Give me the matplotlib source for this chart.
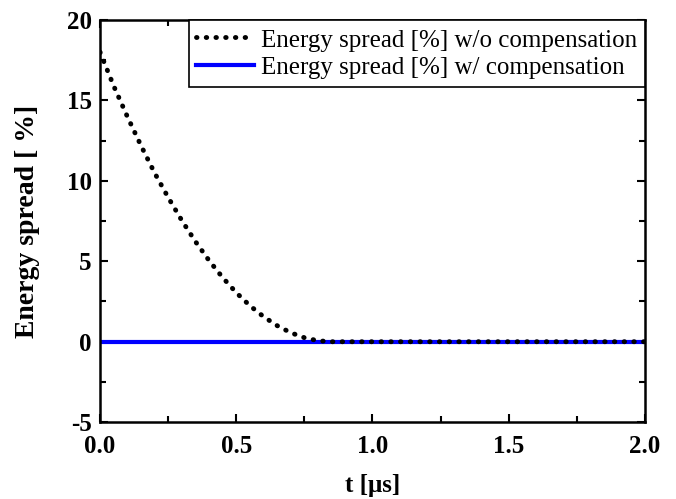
import numpy as np
import matplotlib
matplotlib.use('Agg')
import matplotlib.pyplot as plt
from matplotlib.ticker import MultipleLocator, FormatStrFormatter

plt.rcParams['font.family'] = ['Liberation Serif', 'DejaVu Serif']
plt.rcParams['axes.unicode_minus'] = False

# time [us] and energy spread [%]
t_wo = [0.0, 0.05, 0.1, 0.15, 0.2, 0.25, 0.3, 0.35, 0.4, 0.45, 0.5, 0.55,
        0.6, 0.65, 0.7, 0.75, 0.8, 0.85, 1.0, 1.25, 1.5, 1.75, 2.0]
es_wo = [18.0, 15.9, 14.0, 12.2, 10.5, 8.97, 7.54, 6.23, 5.05, 3.99, 3.05, 2.24,
         1.56, 1.0, 0.56, 0.25, 0.06, 0.0, 0.0, 0.0, 0.0, 0.0, 0.0]
t_w = [0.0, 0.5, 1.0, 1.5, 2.0]
es_w = [0.0, 0.0, 0.0, 0.0, 0.0]

fig = plt.figure(figsize=(6.76, 4.99), dpi=100)
ax = fig.add_axes([0.148, 0.154, 0.806, 0.806])

ax.plot(t_w, es_w, color='#0000ff', linewidth=3, label='Energy spread [%] w/ compensation', zorder=2)
ax.plot(t_wo, es_wo, color='black', linestyle=(0, (0.1, 1.9)), linewidth=3.5,
        dash_capstyle='round', label='Energy spread [%] w/o compensation', zorder=3)

ax.set_xlim(0, 2.0)
ax.set_ylim(-5, 20)
ax.xaxis.set_major_locator(MultipleLocator(0.5))
ax.xaxis.set_minor_locator(MultipleLocator(0.25))
ax.yaxis.set_major_locator(MultipleLocator(5))
ax.yaxis.set_minor_locator(MultipleLocator(2.5))
ax.xaxis.set_major_formatter(FormatStrFormatter('%.1f'))

ax.tick_params(which='both', direction='in', top=True, right=True, width=1.5)
ax.tick_params(which='major', length=6, labelsize=18)
ax.tick_params(axis='x', which='major', pad=9)
ax.tick_params(axis='y', which='major', pad=6)
ax.tick_params(which='minor', length=4)
for lbl in ax.get_xticklabels() + ax.get_yticklabels():
    lbl.set_fontweight('bold')
for s in ax.spines.values():
    s.set_linewidth(1.8)

ax.set_xlabel('t [μs]', fontsize=18, fontweight='bold', labelpad=12)
ax.set_ylabel('Energy spread [ %]', fontsize=20, fontweight='bold', labelpad=19)

handles, labels = ax.get_legend_handles_labels()
leg = ax.legend(handles[::-1], labels[::-1], loc='upper right', fontsize=18, frameon=True,
                fancybox=False, edgecolor='black', borderaxespad=0, handlelength=2.3,
                handleheight=1.0, handletextpad=0.3, borderpad=0.3, labelspacing=0.1)
leg.get_frame().set_linewidth(1.2)
leg.get_frame().set_alpha(1)

fig.savefig('out.png', dpi=100)
